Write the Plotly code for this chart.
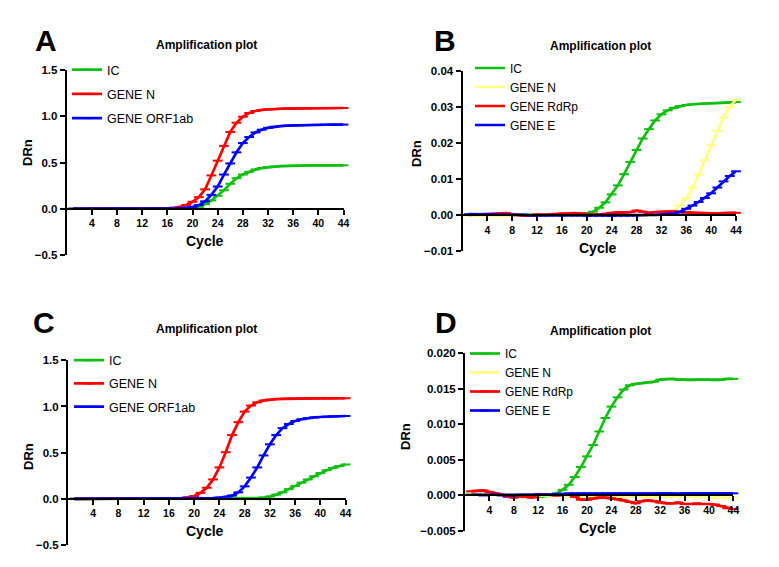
import plotly.graph_objects as go

W, H = 779, 567
FONT = "Arial, Liberation Sans, sans-serif"

cycles = list(range(1, 45))
x_ticks = [4, 8, 12, 16, 20, 24, 28, 32, 36, 40, 44]

# ---------------- Panel A ----------------
A_IC = [0.0, 0.0, 0.0, 0.0, 0.0, 0.0, 0.0, 0.0, 0.0, 0.0, 0.0, 0.0, 0.0, 0.0, 0.0,
        0.0, 0.0, 0.002, 0.004, 0.008, 0.02, 0.05, 0.09, 0.14, 0.20, 0.27, 0.33, 0.37,
        0.40, 0.425, 0.44, 0.45, 0.456, 0.46, 0.463, 0.465, 0.466, 0.467, 0.468, 0.468,
        0.469, 0.469, 0.47, 0.47]
A_N = [0.0, 0.0, 0.0, 0.0, 0.0, 0.0, 0.0, 0.0, 0.0, 0.0, 0.0, 0.0, 0.0, 0.0,
       0.002, 0.005, 0.01, 0.02, 0.04, 0.075, 0.125, 0.21, 0.36, 0.52, 0.68, 0.83, 0.93,
       0.995, 1.035, 1.057, 1.068, 1.074, 1.078, 1.081, 1.083, 1.084, 1.085, 1.086,
       1.087, 1.087, 1.088, 1.088, 1.089, 1.089]
A_ORF = [0.0, 0.0, 0.0, 0.0, 0.0, 0.0, 0.0, 0.0, 0.0, 0.0, 0.0, 0.0, 0.0, 0.0, 0.0, 0.0,
         0.002, 0.005, 0.01, 0.018, 0.04, 0.08, 0.15, 0.24, 0.37, 0.49, 0.61, 0.71, 0.775,
         0.825, 0.855, 0.875, 0.887, 0.894, 0.898, 0.901, 0.903, 0.905, 0.906, 0.907,
         0.908, 0.909, 0.909, 0.91]

# ---------------- Panel B ----------------
B_IC = [0.0, 0.0, 0.0, 0.0, 0.0, -0.0001, -0.0001, -0.0001, -0.0001, -0.0001, -0.0001,
        0.0, 0.0, 0.0, 0.0, 0.0, 0.0001, 0.0001, 0.0002, 0.0004, 0.0009, 0.002, 0.0035,
        0.0057, 0.0082, 0.0113, 0.0147, 0.018, 0.0212, 0.0238, 0.0262, 0.0279, 0.029,
        0.0297, 0.0302, 0.0305, 0.0307, 0.0308, 0.0309, 0.031, 0.031, 0.0311, 0.0312, 0.0313]
B_N = [-0.0001, -0.0001, -0.0002, -0.0002, -0.0002, -0.0002, -0.0002, -0.0001, -0.0002,
       -0.0002, -0.0002, -0.0002, -0.0001, -0.0001, -0.0002, -0.0002, -0.0002, -0.0002,
       -0.0002, -0.0003, -0.0003, -0.0003, -0.0003, -0.0003, -0.0003, -0.0003, -0.0003,
       -0.0003, -0.0003, -0.0002, -0.0001, 0.0001, 0.0004, 0.0012, 0.0026, 0.0046, 0.0076,
       0.0112, 0.0152, 0.0194, 0.0233, 0.027, 0.030, 0.032]
B_RdRp = [0.0, 0.0001, 0.0, 0.0001, 0.0002, 0.0003, 0.0005, 0.0002, -0.0001, -0.0002,
          -0.0001, 0.0001, 0.0, 0.0001, 0.0003, 0.0004, 0.0004, 0.0005, 0.0004, 0.0002,
          0.0001, 0.0001, 0.0003, 0.0006, 0.0007, 0.0007, 0.0008, 0.0012, 0.0009, 0.0006,
          0.0008, 0.0009, 0.001, 0.0009, 0.0008, 0.0007, 0.0006, 0.0005, 0.0004, 0.0004,
          0.0004, 0.0005, 0.0006, 0.0006]
B_E = [0.0002, 0.0002, 0.0002, 0.0001, 0.0001, 0.0, 0.0, 0.0, 0.0, 0.0, -0.0001, -0.0001,
       -0.0001, -0.0001, -0.0001, -0.0001, -0.0001, -0.0001, -0.0001, -0.0002, -0.0002,
       -0.0002, -0.0002, -0.0002, -0.0002, -0.0002, -0.0002, -0.0001, -0.0001, 0.0, 0.0,
       0.0001, 0.0002, 0.0004, 0.0009, 0.0017, 0.0026, 0.0036, 0.0047, 0.006, 0.0076,
       0.0093, 0.0108, 0.0121]

# ---------------- Panel C ----------------
C_IC = [0.0, 0.0, 0.0, 0.0, 0.0, 0.0, 0.0, 0.0, 0.0, 0.0, 0.0, 0.0, 0.0, 0.0, 0.0, 0.0,
        0.0, 0.0, 0.0, 0.0, 0.0, 0.0, 0.0, 0.0, 0.0, 0.001, 0.002, 0.003, 0.005, 0.008,
        0.014, 0.025, 0.045, 0.07, 0.105, 0.14, 0.175, 0.21, 0.245, 0.28, 0.31, 0.335,
        0.355, 0.372]
C_N = [0.0, 0.0, 0.0, 0.0, 0.0, 0.0, 0.0, 0.0, 0.0, 0.0, 0.0, 0.0, 0.0, 0.0, 0.0,
       0.002, 0.004, 0.008, 0.015, 0.03, 0.065, 0.12, 0.21, 0.34, 0.505, 0.69, 0.83, 0.945,
       1.01, 1.045, 1.065, 1.075, 1.08, 1.083, 1.085, 1.086, 1.087, 1.087, 1.088, 1.088,
       1.088, 1.089, 1.089, 1.089]
C_ORF = [0.0, 0.0, 0.0, 0.0, 0.0, 0.0, 0.0, 0.0, 0.0, 0.0, 0.0, 0.0, 0.0, 0.0, 0.0, 0.0,
         0.0, 0.0, 0.0, 0.0, 0.002, 0.004, 0.007, 0.012, 0.02, 0.035, 0.07, 0.135, 0.23,
         0.34, 0.47, 0.59, 0.69, 0.765, 0.81, 0.843, 0.862, 0.874, 0.881, 0.886, 0.89,
         0.893, 0.895, 0.897]

# ---------------- Panel D ----------------
D_IC = [0.0004, 0.0003, 0.0003, 0.0002, 0.0002, 0.0001, 0.0, 0.0, -0.0001, -0.0001,
        -0.0002, -0.0002, -0.0001, 0.0, 0.0003, 0.0008, 0.0015, 0.0026, 0.004, 0.0055,
        0.0071, 0.009, 0.0109, 0.0125, 0.0138, 0.0149, 0.0155, 0.0157, 0.0158, 0.0159,
        0.016, 0.0163, 0.0164, 0.0164, 0.0163, 0.0163, 0.0162, 0.0163, 0.0163, 0.0163,
        0.0162, 0.0163, 0.0164, 0.0164]
D_N = [0.0003, 0.0003, 0.0003, 0.0002, 0.0002, 0.0002, 0.0001, 0.0001, 0.0001, 0.0001,
       0.0, 0.0, 0.0, 0.0, 0.0, 0.0, -0.0001, -0.0001, -0.0001, -0.0001, -0.0001, -0.0001,
       -0.0001, -0.0001, -0.0001, -0.0001, -0.0001, -0.0002, -0.0002, -0.0002, -0.0002,
       -0.0002, -0.0002, -0.0002, -0.0002, -0.0002, -0.0002, -0.0002, -0.0002, -0.0003,
       -0.0003, -0.0003, -0.0003, -0.0003]
D_RdRp = [0.0006, 0.0006, 0.0007, 0.0005, 0.0003, 0.0001, -0.0002, -0.0003, -0.0001,
          -0.0002, -0.0003, 0.0002, 0.0002, 0.0001, 0.0, 0.0001, 0.0002, -0.0002, -0.0006,
          -0.0006, -0.0004, -0.0003, -0.0003, -0.0004, -0.0005, -0.0007, -0.0009, -0.0011,
          -0.0008, -0.0007, -0.0008, -0.001, -0.0011, -0.0011, -0.001, -0.0012, -0.0012,
          -0.0011, -0.0012, -0.0012, -0.0013, -0.0015, -0.0018, -0.0019]
D_E = [0.0001, 0.0001, 0.0, 0.0001, 0.0001, 0.0, 0.0, 0.0, 0.0001, 0.0001, 0.0001,
       0.0001, 0.0001, 0.0001, 0.0002, 0.0002, 0.0003, 0.0003, 0.0003, 0.0003, 0.0003,
       0.0003, 0.0003, 0.0003, 0.0003, 0.0003, 0.0003, 0.0003, 0.0003, 0.0003, 0.0003,
       0.0003, 0.0003, 0.0003, 0.0002, 0.0003, 0.0003, 0.0003, 0.0003, 0.0003, 0.0003,
       0.0003, 0.0003, 0.0003]

GREEN, RED, BLUE, YELLOW = "#10C010", "#FF0000", "#0000FF", "#FFFF80"


def xp(px):
    return px / W


def yp(py):
    return 1 - py / H


# panel geometry in pixels: (x_left, x_right, y_top, y_bottom), y range, tickformat
panels = {
    "A": dict(ax="", box=(66.7, 343.5, 70, 255), yr=(-0.5, 1.5), dt=0.5, fmt=".1f"),
    "B": dict(ax="2", box=(462.5, 736, 70.7, 251), yr=(-0.01, 0.04), dt=0.01, fmt=".2f"),
    "C": dict(ax="3", box=(68, 345.6, 360.3, 545), yr=(-0.5, 1.5), dt=0.5, fmt=".1f"),
    "D": dict(ax="4", box=(465, 733.4, 353.3, 531), yr=(-0.005, 0.02), dt=0.005, fmt=".3f"),
}

series = {
    "A": [("IC", A_IC, GREEN), ("GENE N", A_N, RED), ("GENE ORF1ab", A_ORF, BLUE)],
    "B": [("IC", B_IC, GREEN), ("GENE N", B_N, YELLOW), ("GENE RdRp", B_RdRp, RED), ("GENE E", B_E, BLUE)],
    "C": [("IC", C_IC, GREEN), ("GENE N", C_N, RED), ("GENE ORF1ab", C_ORF, BLUE)],
    "D": [("IC", D_IC, GREEN), ("GENE N", D_N, YELLOW), ("GENE RdRp", D_RdRp, RED), ("GENE E", D_E, BLUE)],
}

legend_names = {"A": "legend", "B": "legend2", "C": "legend3", "D": "legend4"}

fig = go.Figure()
layout = dict(
    width=W, height=H, autosize=False,
    margin=dict(l=0, r=0, t=0, b=0),
    paper_bgcolor="white", plot_bgcolor="white",
    font=dict(family=FONT, color="black"),
    showlegend=True,
)

annotations = []
for key, p in panels.items():
    ax = p["ax"]
    x0, x1, y0, y1 = p["box"]
    ymin, ymax = p["yr"]
    ydom = [yp(y1), yp(y0)]
    xdom = [xp(x0), xp(x1)]
    xpos = ydom[0] + (0 - ymin) / (ymax - ymin) * (ydom[1] - ydom[0])
    nt = int(round((ymax - ymin) / p["dt"]))
    yt = [ymin + i * p["dt"] for i in range(nt + 1)]
    axis_common = dict(showline=True, linecolor="black", linewidth=2, ticks="outside",
                       ticklen=5, tickwidth=2, tickcolor="black", showgrid=False,
                       zeroline=False, automargin=False)
    layout["xaxis" + ax] = dict(domain=xdom, range=[0, 44], anchor="free", position=xpos,
                                tickvals=x_ticks,
                                tickfont=dict(family=FONT, size=10.5, color="black", weight="bold"),
                                **axis_common)
    layout["yaxis" + ax] = dict(domain=ydom, range=[ymin, ymax], anchor="x" + ax,
                                tickvals=yt, tickformat=p["fmt"],
                                tickfont=dict(family=FONT, size=11.5, color="black", weight="bold"),
                                **axis_common)
    for name, vals, col in series[key]:
        fig.add_trace(go.Scatter(
            x=cycles, y=vals, name=name, mode="lines+markers",
            line=dict(color=col, width=2.7),
            marker=dict(symbol="line-ew", size=7, line=dict(color=col, width=2)),
            xaxis="x" + ax, yaxis="y" + ax, legend=legend_names[key],
            legendgroup=key + name, cliponaxis=False,
        ))

layout["legend"] = dict(x=xp(67), y=yp(55), xanchor="left", yanchor="top",
                        bgcolor="rgba(0,0,0,0)", font=dict(family=FONT, size=12.5, color="black"),
                        tracegroupgap=5, itemwidth=30)
layout["legend2"] = dict(x=xp(470), y=yp(53.5), xanchor="left", yanchor="top",
                         bgcolor="rgba(0,0,0,0)", font=dict(family=FONT, size=12, color="black"),
                         tracegroupgap=0, itemwidth=30)
layout["legend3"] = dict(x=xp(69), y=yp(345.5), xanchor="left", yanchor="top",
                         bgcolor="rgba(0,0,0,0)", font=dict(family=FONT, size=12.5, color="black"),
                         tracegroupgap=4, itemwidth=30)
layout["legend4"] = dict(x=xp(465), y=yp(339), xanchor="left", yanchor="top",
                         bgcolor="rgba(0,0,0,0)", font=dict(family=FONT, size=12, color="black"),
                         tracegroupgap=0, itemwidth=30)


def note(text, px, py, size, angle=0, bold=True):
    return dict(text=text, x=xp(px), y=yp(py), xref="paper", yref="paper",
                xanchor="center", yanchor="middle", showarrow=False, textangle=angle,
                font=dict(family=FONT, size=size, color="black", weight="bold" if bold else "normal"))


for t, px, py in [("A", 46, 41), ("B", 445, 40), ("C", 44, 322), ("D", 446, 322)]:
    annotations.append(note(t, px, py, 30))
for px, py in [(207, 45), (600, 46), (207, 329), (600, 331)]:
    annotations.append(note("Amplification plot", px, py, 12))
for px, py in [(205, 241), (598, 248), (205, 531), (598, 528)]:
    annotations.append(note("Cycle", px, py, 14))
for px, py in [(28, 153), (417, 153), (28, 457), (405, 437)]:
    annotations.append(note("DRn", px, py, 13, angle=-90))

layout["annotations"] = annotations
fig.update_layout(**layout)
fig.write_html("out.html", config={"displayModeBar": False},
               post_script="document.body.style.margin='0';document.body.style.overflow='hidden';")
